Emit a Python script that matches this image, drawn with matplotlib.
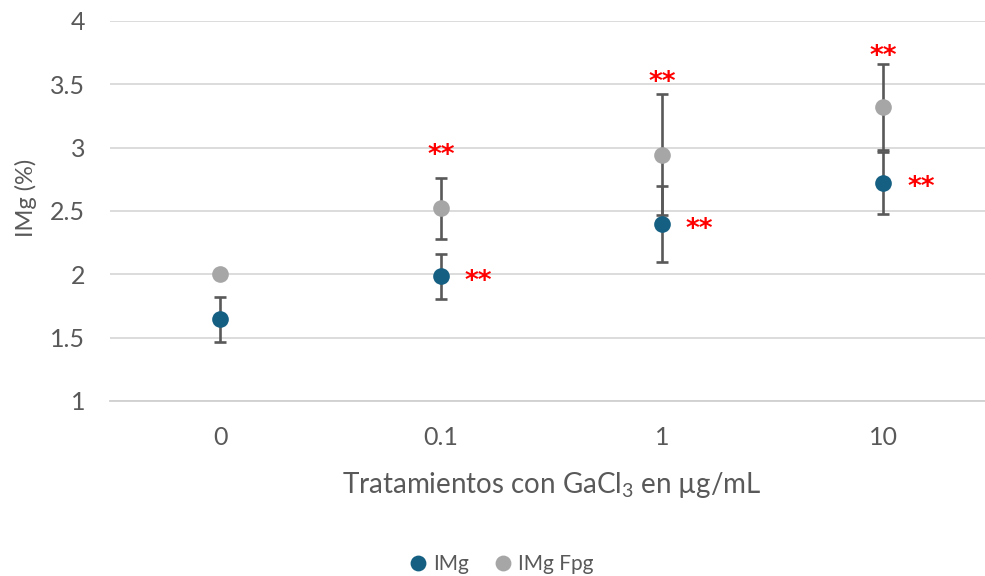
import matplotlib
matplotlib.use("Agg")
import matplotlib.pyplot as plt
import numpy as np

plt.rcParams['font.family'] = ['Lato', 'DejaVu Sans']
plt.rcParams['mathtext.fontset'] = 'custom'
plt.rcParams['mathtext.rm'] = 'Lato'

categories = ['0', '0.1', '1', '10']
img_values = [1.645, 1.984, 2.395, 2.724]
img_errors = [0.18, 0.18, 0.30, 0.245]
fpg_values = [2.00, 2.52, 2.945, 3.32]
fpg_errors = [0.0, 0.24, 0.475, 0.34]
img_signif = ['', '**', '**', '**']
fpg_signif = ['', '**', '**', '**']

text_color = '#595959'
blue = '#156082'
gray = '#A6A6A6'
err_color = '#595959'

fig = plt.figure(figsize=(9.85, 5.76), dpi=100)
ax = fig.add_axes([110/985, (576-401)/576, 875/985, (401-21)/576])

x = np.arange(len(categories))

ax.errorbar(x, img_values, yerr=img_errors, fmt='none', ecolor=err_color,
            elinewidth=1.9, capsize=4.5, capthick=1.9, zorder=2)
ax.errorbar(x, fpg_values, yerr=fpg_errors, fmt='none', ecolor=err_color,
            elinewidth=1.9, capsize=4.5, capthick=1.9, zorder=2)
ax.plot(x, fpg_values, 'o', color=gray, markersize=12, markeredgewidth=0,
        zorder=3, label='IMg Fpg')
ax.plot(x, img_values, 'o', color=blue, markersize=12, markeredgewidth=0,
        zorder=4, label='IMg')

# significance markers
fpg_offsets = [0, 16, 8, 5]
for i, s in enumerate(fpg_signif):
    if s:
        ax.annotate(s, xy=(x[i], fpg_values[i] + fpg_errors[i]),
                    xytext=(0, fpg_offsets[i]), textcoords='offset points',
                    ha='center', va='center', color='red', fontsize=19,
                    fontweight='bold', family='DejaVu Sans')
for i, s in enumerate(img_signif):
    if s:
        ax.annotate(s, xy=(x[i], img_values[i]),
                    xytext=(27, -4), textcoords='offset points',
                    ha='center', va='center', color='red', fontsize=19,
                    fontweight='bold', family='DejaVu Sans')

ax.set_xlim(-0.498, 3.46)
ax.set_ylim(1, 4)
ax.set_yticks([1, 1.5, 2, 2.5, 3, 3.5, 4])
ax.set_yticklabels(['1', '1.5', '2', '2.5', '3', '3.5', '4'])
ax.set_xticks(x)
ax.set_xticklabels(categories)
ax.tick_params(axis='both', length=0, labelsize=18, colors=text_color)
ax.tick_params(axis='x', pad=18)
ax.tick_params(axis='y', pad=18)

ax.grid(axis='y', color='#D9D9D9', linewidth=1.3)
ax.set_axisbelow(True)
for sp in ['top', 'right', 'left']:
    ax.spines[sp].set_visible(False)
ax.spines['bottom'].set_color('#D0D0D0')
ax.spines['bottom'].set_linewidth(1.3)

ax.set_ylabel('IMg (%)', fontsize=17, color=text_color)
ax.yaxis.set_label_coords(-(110-37)/875, (401-198)/380)
ax.set_xlabel(r'Tratamientos con GaCl$_{3}$ en µg/mL', fontsize=20, color=text_color)
ax.xaxis.set_label_coords((552-110)/875, -(470-401)/380)

handles, labels = ax.get_legend_handles_labels()
leg = fig.legend(handles[::-1], labels[::-1], loc='center', bbox_to_anchor=(501/985, 1 - 564/576),
                 ncol=2, frameon=False, fontsize=15, labelcolor=text_color,
                 handlelength=0.9, handletextpad=0.25, columnspacing=1.2,
                 markerscale=0.95)

fig.savefig('out.png', dpi=100)
